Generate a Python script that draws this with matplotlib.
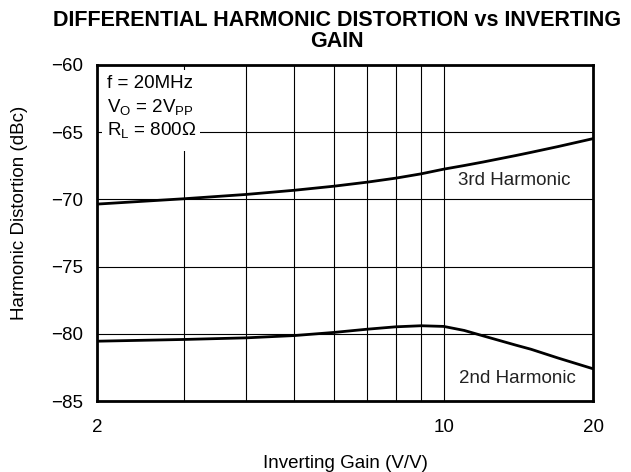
import matplotlib
matplotlib.use("Agg")
import matplotlib.pyplot as plt
from matplotlib.patches import Rectangle
from matplotlib.ticker import FixedLocator, NullLocator, NullFormatter

plt.rcParams['font.family'] = ['Liberation Sans', 'DejaVu Sans']
plt.rcParams['mathtext.default'] = 'regular'

# gain (V/V) and distortion (dBc)
gain = [2, 3, 4, 5, 6, 7, 8, 9, 10, 11, 12, 14, 15, 17, 20]
hd3 = [-70.35, -69.95, -69.63, -69.32, -69.02, -68.72, -68.42, -68.10,
       -67.75, -67.48, -67.22, -66.73, -66.50, -66.07, -65.48]
hd2 = [-80.55, -80.42, -80.30, -80.13, -79.90, -79.66, -79.48, -79.40,
       -79.45, -79.75, -80.15, -80.85, -81.15, -81.80, -82.60]

x_ticks = [2, 10, 20]
x_grid = [3, 4, 5, 6, 7, 8, 9, 10]
y_ticks = [-85, -80, -75, -70, -65, -60]
conditions = ['f = 20MHz', 'V$_{O}$ = 2V$_{PP}$', 'R$_{L}$ = 800Ω']

fig = plt.figure(figsize=(6.31, 4.72), dpi=100)
ax = fig.add_axes([0.1537, 0.1504, 0.7861, 0.7119])

ax.set_xscale('log')
ax.set_xlim(2, 20)
ax.set_ylim(-85, -60)

# grid drawn by hand so the minor decades get lines too
for g in x_grid:
    ax.axvline(g, color='black', lw=0.8, zorder=1)
for v in y_ticks[1:-1]:
    ax.axhline(v, color='black', lw=0.8, zorder=1)

ax.plot(gain, hd3, color='black', lw=2.0, zorder=3)
ax.plot(gain, hd2, color='black', lw=2.0, zorder=3)

ax.text(13.9, -68.63, '3rd Harmonic', fontsize=13.5, ha='center', va='center',
        color='#222222', zorder=4)
ax.text(14.1, -83.3, '2nd Harmonic', fontsize=13.5, ha='center', va='center',
        color='#222222', zorder=4)

# white patch behind the test conditions
ax.add_patch(Rectangle((0.01, 0.744), 0.198, 0.241, transform=ax.transAxes,
                       facecolor='white', edgecolor='none', zorder=2))
for i, line in enumerate(conditions):
    ax.text(0.02, 0.946 - i * 0.07, line, transform=ax.transAxes,
            fontsize=13.5, ha='left', va='center', zorder=4)

ax.xaxis.set_major_locator(FixedLocator(x_ticks))
ax.xaxis.set_minor_locator(NullLocator())
ax.xaxis.set_minor_formatter(NullFormatter())
ax.set_xticklabels([str(t) for t in x_ticks])
ax.set_yticks(y_ticks)
ax.set_yticklabels([str(t).replace('-', '\u2212') for t in y_ticks])
ax.tick_params(axis='both', length=0, labelsize=13.5)
ax.tick_params(axis='x', pad=13)
ax.tick_params(axis='y', pad=10)

for s in ax.spines.values():
    s.set_linewidth(2.0)
    s.set_zorder(5)

ax.set_xlabel('Inverting Gain (V/V)', fontsize=13.5, va='center')
ax.xaxis.set_label_coords(0.5, -0.1845)
ax.set_ylabel('Harmonic Distortion (dBc)', fontsize=13.5, va='center',
              ha='center')
ax.yaxis.set_label_coords(-0.157, 0.56)

fig.text(0.534, 0.978, 'DIFFERENTIAL HARMONIC DISTORTION vs INVERTING\nGAIN',
         fontsize=15.5, fontweight='bold', ha='center', va='top',
         linespacing=0.95)

fig.savefig('out.png', dpi=100)
